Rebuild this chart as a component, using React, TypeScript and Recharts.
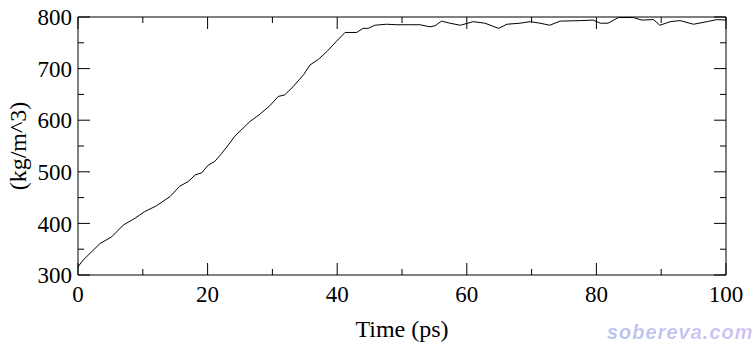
import { LineChart, Line, XAxis, YAxis, Label, Text } from 'recharts';

// density vs. time
const timePs = [
  0, 0.8, 3.4, 5.2, 7.0, 8.8, 10.3, 12.1, 14.2, 15.7, 17.0, 18.1, 19.1, 20.1, 21.1,
  22.2, 23.2, 24.2, 26.5, 28.1, 29.6, 30.9, 31.9, 33.2, 34.8, 35.8, 37.1, 38.4, 39.9,
  41.2, 43.0, 44.0, 44.8, 45.8, 47.6, 49.2, 51.2, 52.8, 54.3, 55.1, 56.1, 57.4, 59.0,
  61.0, 62.8, 64.9, 66.2, 68.2, 69.8, 71.3, 72.8, 74.4, 77.5, 79.5, 80.6, 81.8, 83.4,
  85.7, 87.0, 88.8, 89.8, 91.4, 92.9, 95.0, 97.1, 98.6, 100,
];
const density = [
  316, 329, 361, 374, 397, 410, 423, 434, 452, 472, 481, 494, 498, 513, 520,
  536, 552, 569, 597, 612, 628, 646, 649, 665, 688, 707, 718, 733, 753,
  770, 770, 778, 778, 784, 786, 785, 785, 785, 781, 783, 792, 788, 784,
  791, 788, 778, 786, 788, 791, 788, 784, 792, 793, 794, 788, 788, 799,
  799, 794, 795, 784, 791, 793, 786, 791, 795, 794,
];

const xTicks = [0, 10, 20, 30, 40, 50, 60, 70, 80, 90, 100];
const yTicks = [300, 350, 400, 450, 500, 550, 600, 650, 700, 750, 800];

const data = timePs.map((t, i) => ({ t, rho: density[i] }));

const SERIF = '"Liberation Serif", "Times New Roman", serif';
const FONT = 23;
const TITLE = 24;
const MAJOR = 12;
const MINOR = 6;
const txt = { fontFamily: SERIF, fontSize: FONT };

function BottomTick(props: any) {
  const { x, y, payload } = props;
  const major = payload.value % 20 === 0;
  const base = y - 11;
  return (
    <g>
      <line x1={x} y1={base} x2={x} y2={base - (major ? MAJOR : MINOR)} stroke="#000" />
      {major && (
        <Text x={x} y={y} textAnchor="middle" verticalAnchor="start" fill="#000" style={txt}>
          {String(payload.value)}
        </Text>
      )}
    </g>
  );
}

function TopTick(props: any) {
  const { x, y, payload } = props;
  const major = payload.value % 20 === 0;
  return <line x1={x} y1={y} x2={x} y2={y + (major ? MAJOR : MINOR)} stroke="#000" />;
}

function LeftTick(props: any) {
  const { x, y, payload } = props;
  const major = payload.value % 100 === 0;
  const base = x + 6;
  return (
    <g>
      <line x1={base} y1={y} x2={base + (major ? MAJOR : MINOR)} y2={y} stroke="#000" />
      {major && (
        <Text x={x} y={y} textAnchor="end" verticalAnchor="middle" fill="#000" style={txt}>
          {String(payload.value)}
        </Text>
      )}
    </g>
  );
}

function RightTick(props: any) {
  const { x, y, payload } = props;
  const major = payload.value % 100 === 0;
  return <line x1={x} y1={y} x2={x - (major ? MAJOR : MINOR)} y2={y} stroke="#000" />;
}

function YTitle(props: any) {
  const { viewBox } = props;
  const cx = viewBox.x + 17;
  const cy = viewBox.y + viewBox.height / 2;
  return (
    <Text x={cx} y={cy} angle={-90} textAnchor="middle" verticalAnchor="middle" fill="#000"
      style={{ fontFamily: SERIF, fontSize: TITLE }}>
      (kg/m^3)
    </Text>
  );
}

export default function App() {
  return (
    <div style={{ position: 'absolute', left: 0, top: 0, width: 755, height: 351, background: '#fff', fontFamily: SERIF }}>
      <LineChart width={755} height={351} data={data} margin={{ top: 16, right: 28, bottom: 0, left: 0 }}>
        <XAxis xAxisId="b" dataKey="t" type="number" domain={[0, 100]} ticks={xTicks} interval={0}
          height={76} tickSize={0} tickMargin={11} tickLine={false} tick={BottomTick}
          axisLine={{ stroke: '#000' }}>
          <Label value="Time (ps)" position="insideBottom" offset={14} fill="#000"
            style={{ fontFamily: SERIF, fontSize: TITLE }} />
        </XAxis>
        <XAxis xAxisId="t" orientation="top" dataKey="t" type="number" domain={[0, 100]} ticks={xTicks}
          interval={0} height={1} tickSize={0} tickMargin={0} tickLine={false} tick={TopTick}
          axisLine={{ stroke: '#000' }} />
        <YAxis yAxisId="l" type="number" domain={[300, 800]} ticks={yTicks} interval={0} width={78}
          tickSize={0} tickMargin={6} tickLine={false} tick={LeftTick} axisLine={{ stroke: '#000' }}
          allowDataOverflow>
          <Label content={YTitle} />
        </YAxis>
        <YAxis yAxisId="r" orientation="right" type="number" domain={[300, 800]} ticks={yTicks} interval={0}
          width={1} tickSize={0} tickMargin={0} tickLine={false} tick={RightTick}
          axisLine={{ stroke: '#000' }} allowDataOverflow />
        <Line xAxisId="b" yAxisId="l" type="linear" dataKey="rho" stroke="#000" strokeWidth={1}
          dot={false} isAnimationActive={false} />
      </LineChart>
      <div style={{
        position: 'absolute', left: 607, top: 321, fontSize: 20, fontWeight: 'bold', fontStyle: 'italic',
        fontFamily: '"Liberation Sans", Arial, sans-serif', letterSpacing: 1,
        background: 'linear-gradient(90deg, #b6c4ee, #d4c2f3)', WebkitBackgroundClip: 'text',
        backgroundClip: 'text', color: 'transparent',
      }}>
        sobereva.com
      </div>
    </div>
  );
}
